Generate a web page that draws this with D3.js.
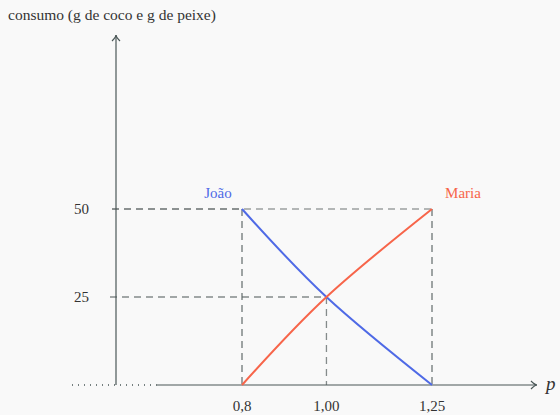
<!DOCTYPE html>
<html>
<head>
<meta charset="utf-8">
<script src="https://cdn.jsdelivr.net/npm/d3@7"></script>
<style>
  body { margin: 0; background: #f9f9f9; }
  svg { display: block; font-family: "Liberation Serif", "DejaVu Serif", serif; }
</style>
</head>
<body>
<div class="chart"></div>
<script>
// values
const xTicks = [0.8, 1.00, 1.25]
const xTickLabels = ["0,8", "1,00", "1,25"]
const yTicks = [25, 50]
const joao = [[0.8, 50], [1.0, 25], [1.25, 0]]
const maria = [[0.8, 0], [1.0, 25], [1.25, 50]]

const width = 560, height = 415

const svg = d3.select(".chart")
  .append("svg")
    .attr("width", width)
    .attr("height", height)

const x = d3.scaleLinear().domain([0.8, 1.25]).range([242, 432])
const y = d3.scaleLinear().domain([0, 50]).range([385, 209])

const axisColor = "#4a5757"
const dashColor = "#5d6666"
const blue = "#4f6ae6"
const red = "#f7654a"

const axisLeft = 116, axisTop = 35, axisRight = 537, dottedStart = 72, solidStart = 157

// dashed guide lines (the 50 line is drawn twice on the left part)
const guides = svg.append("g")
  .attr("stroke", dashColor)
  .attr("stroke-width", 1.3)
  .attr("stroke-dasharray", "7,5")
  .attr("fill", "none")

guides.append("line")
  .attr("x1", axisLeft - 4).attr("x2", x(joao[0][0]))
  .attr("y1", y(50)).attr("y2", y(50))
  .attr("stroke-opacity", 0.6)
guides.append("line")
  .attr("x1", axisLeft - 4).attr("x2", x(maria[2][0]))
  .attr("y1", y(50)).attr("y2", y(50))
  .attr("stroke-opacity", 0.6)
guides.append("line")
  .attr("x1", axisLeft - 6).attr("x2", x(1.0))
  .attr("y1", y(25)).attr("y2", y(25))
  .attr("stroke-opacity", 0.75)

guides.append("line")
  .attr("x1", x(0.8)).attr("x2", x(0.8))
  .attr("y1", y(50)).attr("y2", y(0))
  .attr("stroke-opacity", 0.9)
guides.append("line")
  .attr("x1", x(1.0)).attr("x2", x(1.0))
  .attr("y1", y(25)).attr("y2", y(0))
  .attr("stroke-opacity", 0.75)
guides.append("line")
  .attr("x1", x(1.25)).attr("x2", x(1.25))
  .attr("y1", y(50)).attr("y2", y(0))
  .attr("stroke-opacity", 0.9)

// axes
const ax = svg.append("g").attr("stroke", axisColor).attr("fill", "none").attr("stroke-width", 1.2)

ax.append("line")
  .attr("x1", axisLeft).attr("x2", axisLeft)
  .attr("y1", y(0)).attr("y2", axisTop)
ax.append("path")
  .attr("d", `M${axisLeft - 4},${axisTop + 6} Q${axisLeft},${axisTop + 2} ${axisLeft},${axisTop} Q${axisLeft},${axisTop + 2} ${axisLeft + 4},${axisTop + 6}`)

ax.append("line")
  .attr("x1", dottedStart).attr("x2", solidStart)
  .attr("y1", y(0)).attr("y2", y(0))
  .attr("stroke-dasharray", "1,5")
  .attr("stroke-width", 1.3)
ax.append("line")
  .attr("x1", solidStart).attr("x2", axisRight)
  .attr("y1", y(0)).attr("y2", y(0))
ax.append("path")
  .attr("d", `M${axisRight - 6},${y(0) - 4} Q${axisRight - 2},${y(0)} ${axisRight},${y(0)} Q${axisRight - 2},${y(0)} ${axisRight - 6},${y(0) + 4}`)

// curves
const line = d3.line()
  .x(d => x(d[0]))
  .y(d => y(d[1]))
  .curve(d3.curveNatural)

svg.append("path")
  .datum(joao)
  .attr("d", line)
  .attr("fill", "none")
  .attr("stroke", blue)
  .attr("stroke-width", 2)

svg.append("path")
  .datum(maria)
  .attr("d", line)
  .attr("fill", "none")
  .attr("stroke", red)
  .attr("stroke-width", 2)

// tick labels
svg.append("g")
  .selectAll("text")
  .data(xTicks)
  .enter().append("text")
    .attr("x", d => x(d))
    .attr("y", 411)
    .attr("text-anchor", "middle")
    .attr("font-size", 15)
    .attr("fill", "#333")
    .text((d, i) => xTickLabels[i])

svg.append("g")
  .selectAll("text")
  .data(yTicks)
  .enter().append("text")
    .attr("x", 89)
    .attr("y", d => y(d))
    .attr("dy", "0.35em")
    .attr("text-anchor", "end")
    .attr("font-size", 15)
    .attr("fill", "#333")
    .text(d => d)

// labels
svg.append("text")
  .attr("x", 8).attr("y", 20)
  .attr("font-size", 15.5)
  .attr("fill", "#333")
  .text("consumo (g de coco e g de peixe)")

svg.append("text")
  .attr("x", 546).attr("y", 390)
  .attr("font-size", 19)
  .attr("font-style", "italic")
  .attr("fill", "#333")
  .text("p")

svg.append("text")
  .attr("x", x(joao[0][0]) - 24).attr("y", 198)
  .attr("text-anchor", "middle")
  .attr("font-size", 15)
  .attr("fill", blue)
  .text("João")

svg.append("text")
  .attr("x", x(maria[2][0]) + 31).attr("y", 198)
  .attr("text-anchor", "middle")
  .attr("font-size", 15)
  .attr("fill", red)
  .text("Maria")
</script>
</body>
</html>
